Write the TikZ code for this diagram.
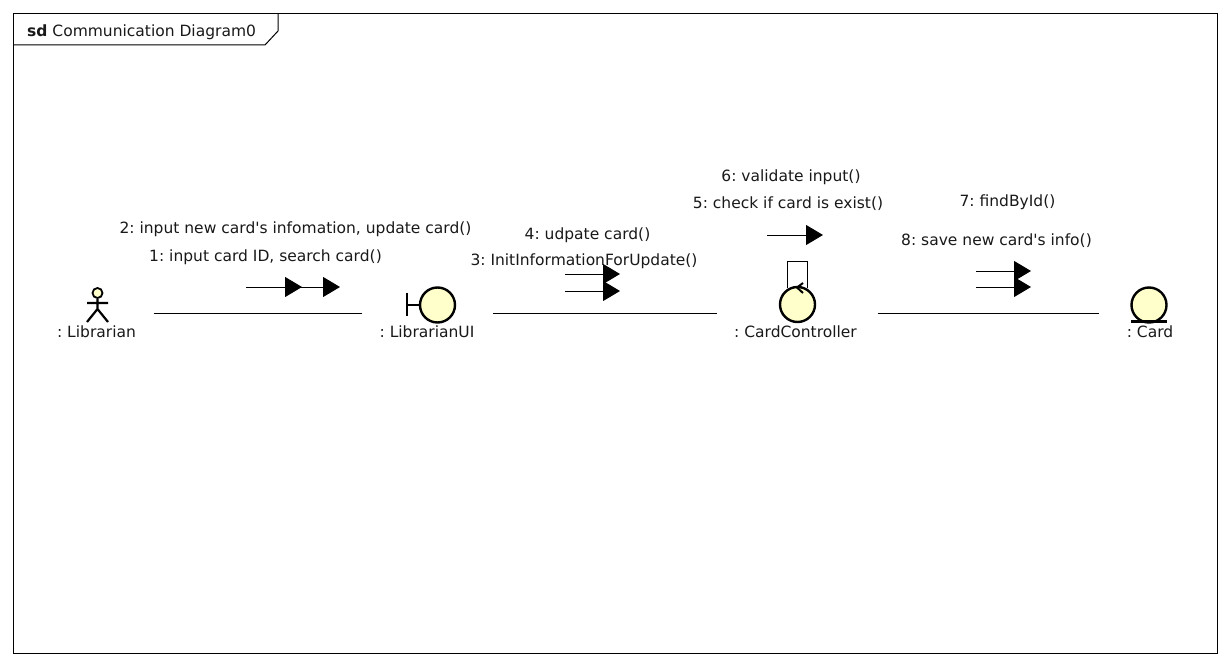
\documentclass[tikz,border=0pt]{standalone}
\usepackage{fontspec}
\newfontfamily\lblfont{DejaVu Sans}
\usetikzlibrary{arrows.meta}
\definecolor{lifefill}{HTML}{FFFFCC}
\tikzset{
  px/.style={x=1pt,y=-1pt},
  lbl/.style={font=\lblfont\fontsize{15.5pt}{18pt}\selectfont\frenchspacing,inner sep=0pt,text=black!90},
  shape body/.style={circle,draw=black,line width=2.4pt,fill=lifefill,inner sep=0pt,minimum size=#1},
  thick stroke/.style={line width=2.4pt},
  link/.style={line width=1pt},
  msg/.style={line width=1pt,-{Triangle[length=17pt,width=20pt]}},
  frame line/.style={line width=1pt}
}
\begin{document}
\begin{tikzpicture}[px]
\useasboundingbox (0,0) rectangle (1232,666);
\fill[white] (0,0) rectangle (1232,666);
% frame
\node[draw=black,frame line,minimum width=1204pt,minimum height=640pt,inner sep=0pt] (frame) at (615.7,333.7) {};
\draw[frame line] (13.7,45) -- (265,45) -- (278,31) -- (278,13.7);
\node[lbl,anchor=west] (title) at (27,32) {\textbf{sd} Communication Diagram0};
% actor
\node[shape body=10pt,line width=1.8pt] (head) at (97.5,293) {};
\coordinate (hip) at (97.5,309);
\coordinate (armL) at (87,303);
\coordinate (armR) at (108,303);
\coordinate (legL) at (87,322);
\coordinate (legR) at (108,322);
\draw[line width=2.2pt] (head.south) -- (hip) (armL) -- (armR) (legL) -- (hip) -- (legR);
\node[lbl] (librarian) at (96.5,331.5) {: Librarian};
% boundary
\coordinate (bTop) at (407,292.5);
\coordinate (bBot) at (407,316);
\coordinate (bMid) at (407,305);
\node[shape body=35pt] (ui) at (437.5,305) {};
\draw[thick stroke] (bTop) -- (bBot);
\draw[thick stroke] (bMid) -- (ui.west);
\node[lbl] (uiL) at (427,331.5) {: LibrarianUI};
% controller
\coordinate (loopA) at (787.5,288);
\coordinate (loopB) at (787.5,261.5);
\coordinate (loopC) at (807.5,261.5);
\coordinate (loopD) at (807.5,288);
\draw[line width=1pt] (loopA) -- (loopB) -- (loopC) -- (loopD);
\node[shape body=35pt] (ctl) at (797.5,304.5) {};
\draw[line width=2pt] (803,283) -- (797,287.5) -- (803,293);
\node[lbl] (ctlL) at (795.5,331.5) {: CardController};
% entity
\node[shape body=35pt] (card) at (1149,305) {};
\coordinate (eL) at (1131,321.5);
\coordinate (eR) at (1167,321.5);
\draw[thick stroke] (eL) -- (eR);
\node[lbl] (cardL) at (1150,331.5) {: Card};
% links
\coordinate (l1a) at (154,313); \coordinate (l1b) at (362,313);
\coordinate (l2a) at (493,313); \coordinate (l2b) at (717,313);
\coordinate (l3a) at (878,313); \coordinate (l3b) at (1099,313);
\draw[link] (l1a) -- (l1b);
\draw[link] (l2a) -- (l2b);
\draw[link] (l3a) -- (l3b);
% messages
\coordinate (m1a) at (246,287); \coordinate (m1b) at (302,287);
\coordinate (m2a) at (284,287); \coordinate (m2b) at (340,287);
\coordinate (m3a) at (565,291); \coordinate (m3b) at (620,291);
\coordinate (m4a) at (565,274); \coordinate (m4b) at (620,274);
\coordinate (m5a) at (767,235); \coordinate (m5b) at (823,235);
\coordinate (m7a) at (976,271); \coordinate (m7b) at (1031,271);
\coordinate (m8a) at (976,287); \coordinate (m8b) at (1031,287);
\draw[msg] (m2a) -- (m2b);
\draw[msg] (m1a) -- (m1b);
\draw[msg] (m4a) -- (m4b);
\draw[msg] (m3a) -- (m3b);
\draw[msg] (m5a) -- (m5b);
\draw[msg] (m7a) -- (m7b);
\draw[msg] (m8a) -- (m8b);
% labels
\node[lbl] (t2) at (295.5,229) {2: input new card's infomation, update card()};
\node[lbl] (t1) at (265.5,257) {1: input card ID, search card()};
\node[lbl] (t4) at (587.5,235) {4: udpate card()};
\node[lbl] (t3) at (584,261) {3: InitInformationForUpdate()};
\node[lbl] (t6) at (791,177) {6: validate input()};
\node[lbl] (t5) at (788,204) {5: check if card is exist()};
\node[lbl] (t7) at (1007.5,202) {7: findById()};
\node[lbl] (t8) at (996.5,241) {8: save new card's info()};
\end{tikzpicture}
\end{document}
